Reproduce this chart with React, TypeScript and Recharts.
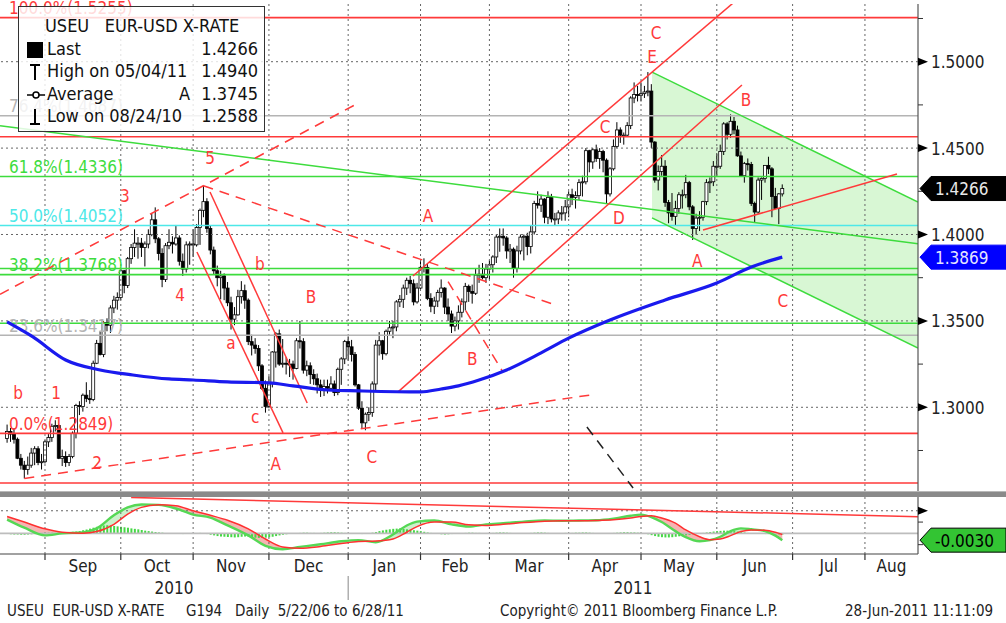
import React from 'react';
import { ComposedChart, Bar, Line, Area, XAxis, YAxis, ReferenceLine, Scatter } from 'recharts';

const FONT = "'DejaVu Sans Condensed', 'DejaVu Sans', sans-serif";
const RED = '#ff3a3a';
const GREEN = '#3ddc3d';
const CYAN = '#4de8e8';
const GRAY = '#b4b4b4';
const BLUE = '#1a1aee';

// trading-day index: 0 = 1 Sep 2010; first candle = 17 Aug 2010 (index -11)
const FIRST_INDEX = -11;

const OPEN = [
  1.2820,1.2860,1.2845,1.2815,1.2705,1.2665,1.2640,1.2665,1.2735,1.2760,1.2680,
  1.2685,1.2800,1.2825,1.2890,1.2895,1.2705,1.2715,1.2680,1.2715,1.2850,1.3010,1.3005,1.3070,1.3050,1.3045,1.3255,1.3370,1.3305,1.3490,1.3475,1.3575,1.3620,
  1.3635,1.3790,1.3705,1.3860,1.3925,1.3950,1.3950,1.3925,1.3945,1.4000,1.4085,1.3975,1.3890,1.3740,1.3935,1.3955,1.3945,1.3980,1.3845,1.3800,1.3940,
  1.3945,1.3940,1.4040,1.4140,1.4190,1.4035,1.3910,1.3790,1.3750,1.3760,1.3690,1.3605,1.3510,1.3535,1.3640,1.3675,1.3620,1.3380,1.3360,1.3340,1.3240,1.3110,
  1.3005,1.3140,1.3320,1.3425,1.3250,1.3255,1.3250,1.3250,1.3225,1.3385,1.3380,1.3215,1.3240,1.3190,1.3165,1.3130,1.3100,1.3120,1.3110,1.3135,1.3085,1.3220,1.3280,
  1.3380,1.3350,1.3305,1.3130,1.2995,1.2910,1.2960,1.2970,1.3135,1.3360,1.3385,1.3310,1.3440,1.3460,1.3465,1.3610,1.3625,1.3690,1.3735,1.3715,1.3610,
  1.3690,1.3810,1.3810,1.3630,1.3585,1.3615,1.3665,1.3690,1.3580,1.3540,1.3470,1.3500,1.3550,1.3610,1.3700,1.3670,1.3660,1.3765,1.3770,1.3750,
  1.3800,1.3825,1.3870,1.3985,1.3990,1.3980,1.3905,1.3915,1.3805,1.3905,1.3985,1.3990,1.3930,1.4015,1.4180,1.4170,1.4205,1.4100,1.4215,1.4090,1.4090,1.4125,1.4125,
  1.4160,1.4230,1.4215,1.4225,1.4300,1.4305,1.4485,1.4420,1.4490,1.4440,1.4480,1.4430,1.4235,1.4380,1.4510,1.4605,1.4575,1.4575,1.4630,1.4790,1.4810,
  1.4805,1.4815,1.4825,1.4830,1.4535,1.4315,1.4365,1.4395,1.4185,1.4125,1.4105,1.4150,1.4230,1.4230,1.4300,1.4160,1.4035,1.4095,1.4100,1.4190,1.4300,1.4305,
  1.4395,1.4395,1.4480,1.4640,1.4580,1.4655,1.4605,1.4455,1.4340,1.4410,1.4405,1.4180,1.4130,1.4315,1.4325,1.4400,1.4380,1.4220,1.4150,1.4235,
];
const HIGH = [
  1.2900,1.2880,1.2880,1.2825,1.2730,1.2690,1.2715,1.2765,1.2775,1.2775,1.2730,
  1.2810,1.2845,1.2905,1.2925,1.2900,1.2755,1.2745,1.2730,1.2860,1.3020,1.3035,1.3080,1.3145,1.3100,1.3270,1.3390,1.3440,1.3500,1.3515,1.3590,1.3645,1.3665,
  1.3800,1.3795,1.3870,1.3945,1.4030,1.3985,1.3980,1.3960,1.4030,1.4120,1.4157,1.3985,1.3920,1.3950,1.4030,1.3990,1.4055,1.3995,1.3890,1.3960,1.3960,
  1.4030,1.4060,1.4150,1.4282,1.4210,1.4050,1.3930,1.3820,1.3790,1.3775,1.3725,1.3640,1.3580,1.3680,1.3730,1.3710,1.3630,1.3420,1.3400,1.3360,1.3250,1.3155,
  1.3180,1.3325,1.3435,1.3450,1.3395,1.3290,1.3280,1.3270,1.3400,1.3500,1.3400,1.3270,1.3260,1.3220,1.3195,1.3160,1.3160,1.3160,1.3180,1.3155,1.3230,1.3290,1.3390,
  1.3410,1.3390,1.3320,1.3135,1.3035,1.2970,1.3000,1.3150,1.3390,1.3435,1.3390,1.3450,1.3500,1.3500,1.3620,1.3650,1.3710,1.3750,1.3760,1.3740,1.3720,
  1.3845,1.3862,1.3830,1.3660,1.3640,1.3680,1.3740,1.3695,1.3630,1.3560,1.3525,1.3590,1.3630,1.3720,1.3710,1.3710,1.3800,1.3825,1.3835,1.3830,
  1.3850,1.3880,1.4000,1.4035,1.4035,1.3990,1.3945,1.3925,1.3935,1.4000,1.4000,1.4010,1.4050,1.4195,1.4250,1.4230,1.4210,1.4250,1.4235,1.4125,1.4140,1.4165,1.4200,
  1.4250,1.4265,1.4250,1.4320,1.4340,1.4500,1.4490,1.4500,1.4520,1.4500,1.4490,1.4440,1.4390,1.4550,1.4650,1.4620,1.4590,1.4650,1.4800,1.4880,1.4860,
  1.4880,1.4860,1.4940,1.4870,1.4540,1.4400,1.4460,1.4430,1.4200,1.4240,1.4195,1.4245,1.4260,1.4345,1.4310,1.4170,1.4120,1.4135,1.4195,1.4320,1.4330,1.4425,
  1.4470,1.4520,1.4650,1.4650,1.4695,1.4680,1.4630,1.4480,1.4420,1.4440,1.4420,1.4190,1.4330,1.4330,1.4400,1.4450,1.4390,1.4270,1.4240,1.4290,
];
const LOW = [
  1.2795,1.2800,1.2790,1.2700,1.2640,1.2588,1.2610,1.2650,1.2665,1.2665,1.2640,
  1.2675,1.2770,1.2800,1.2860,1.2700,1.2660,1.2655,1.2660,1.2705,1.2820,1.2955,1.2975,1.3030,1.3020,1.3035,1.3250,1.3300,1.3290,1.3440,1.3430,1.3545,1.3565,
  1.3620,1.3660,1.3690,1.3830,1.3870,1.3860,1.3870,1.3815,1.3920,1.3990,1.3950,1.3850,1.3695,1.3725,1.3915,1.3890,1.3935,1.3820,1.3760,1.3780,1.3825,
  1.3870,1.3930,1.3940,1.4100,1.4010,1.3885,1.3770,1.3700,1.3625,1.3620,1.3585,1.3450,1.3475,1.3530,1.3600,1.3570,1.3360,1.3300,1.3310,1.3210,1.3100,1.2969,
  1.2995,1.3115,1.3230,1.3240,1.3230,1.3190,1.3175,1.3160,1.3220,1.3340,1.3195,1.3180,1.3135,1.3130,1.3080,1.3060,1.3065,1.3080,1.3100,1.3065,1.3070,1.3130,1.3250,
  1.3270,1.3265,1.3120,1.2985,1.2875,1.2867,1.2920,1.2945,1.3100,1.3300,1.3275,1.3300,1.3420,1.3400,1.3440,1.3580,1.3575,1.3650,1.3660,1.3590,1.3600,
  1.3685,1.3780,1.3620,1.3550,1.3540,1.3580,1.3635,1.3540,1.3500,1.3430,1.3440,1.3450,1.3520,1.3560,1.3610,1.3600,1.3650,1.3720,1.3740,1.3720,
  1.3740,1.3780,1.3835,1.3900,1.3935,1.3860,1.3835,1.3750,1.3780,1.3885,1.3850,1.3880,1.3890,1.4000,1.4150,1.4130,1.4065,1.4060,1.4070,1.4050,1.4060,1.4080,1.4080,
  1.4100,1.4170,1.4150,1.4200,1.4220,1.4290,1.4360,1.4380,1.4420,1.4380,1.4360,1.4180,1.4220,1.4370,1.4500,1.4530,1.4520,1.4570,1.4610,1.4760,1.4770,
  1.4770,1.4790,1.4800,1.4500,1.4300,1.4255,1.4340,1.4160,1.4065,1.4080,1.4050,1.4120,1.4150,1.4210,1.4140,1.3968,1.4000,1.4020,1.4080,1.4170,1.4240,1.4280,
  1.4340,1.4380,1.4460,1.4550,1.4560,1.4580,1.4450,1.4335,1.4300,1.4370,1.4165,1.4070,1.4120,1.4200,1.4300,1.4350,1.4100,1.4150,1.4060,1.4220,
];
const CLOSE = [
  1.2860,1.2845,1.2815,1.2705,1.2665,1.2640,1.2665,1.2735,1.2760,1.2680,1.2685,
  1.2800,1.2825,1.2890,1.2895,1.2705,1.2715,1.2680,1.2715,1.2850,1.3010,1.3005,1.3070,1.3050,1.3045,1.3255,1.3370,1.3305,1.3490,1.3475,1.3575,1.3620,1.3635,
  1.3790,1.3705,1.3860,1.3925,1.3950,1.3950,1.3925,1.3945,1.4000,1.4085,1.3975,1.3890,1.3740,1.3935,1.3955,1.3945,1.3980,1.3845,1.3800,1.3940,1.3945,
  1.3940,1.4040,1.4140,1.4190,1.4035,1.3910,1.3790,1.3750,1.3760,1.3690,1.3605,1.3510,1.3535,1.3640,1.3675,1.3620,1.3380,1.3360,1.3340,1.3240,1.3110,1.3005,
  1.3140,1.3320,1.3425,1.3250,1.3255,1.3250,1.3250,1.3225,1.3385,1.3380,1.3215,1.3240,1.3190,1.3165,1.3130,1.3100,1.3120,1.3110,1.3135,1.3085,1.3220,1.3280,1.3380,
  1.3350,1.3305,1.3130,1.2995,1.2910,1.2960,1.2970,1.3135,1.3360,1.3385,1.3310,1.3440,1.3460,1.3465,1.3610,1.3625,1.3690,1.3735,1.3715,1.3610,1.3690,
  1.3810,1.3810,1.3630,1.3585,1.3615,1.3665,1.3690,1.3580,1.3540,1.3470,1.3500,1.3550,1.3610,1.3700,1.3670,1.3660,1.3765,1.3770,1.3750,1.3800,
  1.3825,1.3870,1.3985,1.3990,1.3980,1.3905,1.3915,1.3805,1.3905,1.3985,1.3990,1.3930,1.4015,1.4180,1.4170,1.4205,1.4100,1.4215,1.4090,1.4090,1.4125,1.4125,1.4160,
  1.4230,1.4215,1.4225,1.4300,1.4305,1.4485,1.4420,1.4490,1.4440,1.4480,1.4430,1.4235,1.4380,1.4510,1.4605,1.4575,1.4575,1.4630,1.4790,1.4810,1.4805,
  1.4815,1.4825,1.4830,1.4535,1.4315,1.4365,1.4395,1.4185,1.4125,1.4105,1.4150,1.4230,1.4230,1.4300,1.4160,1.4035,1.4095,1.4100,1.4190,1.4300,1.4305,1.4395,
  1.4395,1.4480,1.4640,1.4580,1.4655,1.4605,1.4455,1.4340,1.4410,1.4405,1.4180,1.4130,1.4315,1.4325,1.4400,1.4380,1.4220,1.4150,1.4235,1.4266,
];

// 200-day average (blue)
const MA_INDEX = [-11, -3.5, 6, 16, 25.5, 36, 43, 53, 65, 72, 82, 91, 109, 115, 120, 126, 134, 144, 152, 164, 180, 195, 205, 214];
const MA_VALUE = [1.3494, 1.3407, 1.3274, 1.3216, 1.3187, 1.3164, 1.3158, 1.3147, 1.3141, 1.3124, 1.3100, 1.3095, 1.3089, 1.3106, 1.3124, 1.3158, 1.3216, 1.3315, 1.3400, 1.3505, 1.3621, 1.3719, 1.3812, 1.3869];

const LAST_PRICE = 1.4266;
const MA_LAST = 1.3869;

// MACD panel
const MACD_INDEX = [-11,-6,0,5,11,15,20,24,28,33,38,43,48,53,59,64,69,74,80,86,91,96,101,105,108,113,118,123,128,133,139,145,150,155,160,165,170,173,176,179,183,186,190,193,196,199,202,205,209,212,214];
const MACD_VALUE = [.0061,.0025,-.0009,.0000,.0004,.0022,.0080,.0115,.0128,.0126,.0110,.0083,.0070,.0035,-.0009,-.0055,-.0070,-.0060,-.0048,-.0035,-.0030,-.0039,-.0005,.0035,.0052,.0057,.0040,.0030,.0040,.0045,.0052,.0057,.0056,.0057,.0058,.0065,.0078,.0083,.0072,.0050,.0010,-.0017,-.0035,-.0030,-.0015,.0010,.0022,.0018,.0010,-.0010,-.0030];
const SIGNAL_VALUE = [.0075,.0050,.0020,.0005,.0001,.0008,.0040,.0085,.0115,.0127,.0122,.0100,.0080,.0058,.0020,-.0025,-.0060,-.0066,-.0058,-.0045,-.0036,-.0034,-.0025,.0005,.0030,.0050,.0050,.0038,.0035,.0040,.0048,.0054,.0056,.0056,.0057,.0060,.0068,.0075,.0078,.0068,.0045,.0015,-.0015,-.0028,-.0025,-.0010,.0008,.0015,.0014,.0005,-.0005];
// daily histogram, units of 0.0001, from index -11
const HIST = [
  -3,-4,-5,-5,-6,-6,-5,-4,-3,-2,-2,
  2,3,3,2,1,2,3,5,7,8,10,14,17,21,25,29,32,35,36,35,33,31,
  29,27,25,22,20,18,15,12,10,8,6,4,3,1,0,-1,-2,-2,-3,-2,-1,
  0,1,2,0,-3,-6,-9,-12,-14,-15,-16,-17,-18,-17,-15,-14,-15,-17,-19,-20,-20,-19,
  -17,-15,-12,-9,-6,-4,-2,0,1,2,3,3,2,2,1,2,3,4,5,5,4,3,2,
  1,0,-1,-2,-3,-2,0,3,6,10,13,16,18,20,21,22,20,18,16,14,12,
  10,7,4,2,0,-2,-4,-5,-4,-3,-2,0,1,2,3,3,2,2,1,1,
  1,2,3,4,4,3,2,1,0,-1,0,1,2,3,4,4,3,2,1,0,1,1,2,
  2,2,3,3,4,4,3,2,1,0,-1,0,1,2,3,4,5,5,4,4,3,
  2,0,-4,-8,-12,-15,-17,-18,-18,-17,-15,-13,-11,-9,-7,-4,-2,0,2,4,6,8,
  10,11,12,12,11,10,8,6,4,2,0,-1,-2,-2,-3,-3,-4,-4,-5,-5,
];
const MACD_LAST = -0.003;
const MACD_TREND = [[25, 0.0159], [253.4, 0.0074]];

const MONTH_STARTS = [0, 22, 43, 65, 88, 109, 129, 152, 173, 195, 217, 238, 261];
const MONTH_LABELS = ['Sep', 'Oct', 'Nov', 'Dec', 'Jan', 'Feb', 'Mar', 'Apr', 'May', 'Jun', 'Jul', 'Aug'];
const YEAR_LABELS = ['2010', '2011'];
const YEAR_BREAK = 88;

const X_DOMAIN: [number, number] = [-13.06, 253.4];
const PRICE_DOMAIN: [number, number] = [1.25156, 1.53339];
const MACD_DOMAIN: [number, number] = [-0.00913, 0.01609];
const PRICE_MAJOR = [1.3, 1.35, 1.4, 1.45, 1.5];
const PRICE_MINOR = [1.275, 1.325, 1.375, 1.425, 1.475, 1.525];

const FIB_LEVELS = [
  { v: 1.5255, t: '100.0%(1.5255)', c: RED },
  { v: 1.4687, t: '76.4%(1.4687)', c: GRAY },
  { v: 1.4336, t: '61.8%(1.4336)', c: GREEN },
  { v: 1.4052, t: '50.0%(1.4052)', c: CYAN },
  { v: 1.3768, t: '38.2%(1.3768)', c: GREEN },
  { v: 1.3417, t: '23.6%(1.3417)', c: GRAY },
  { v: 1.2849, t: '0.0%(1.2849)', c: RED },
];
const EXTRA_LEVELS = [
  { v: 1.4566, c: RED },
  { v: 1.3803, c: GREEN },
  { v: 1.3486, c: GREEN },
  { v: 1.2562, c: RED },
];

const TRENDS = [
  { a: [-13.06, 1.4630], b: [253.4, 1.3947], c: GREEN, d: false },
  { a: [176.2, 1.4940], b: [253.4, 1.4188], c: GREEN, d: false },
  { a: [176.2, 1.4096], b: [253.4, 1.3343], c: GREEN, d: false },
  { a: [-6, 1.2588], b: [158.2, 1.3071], c: RED, d: true },
  { a: [-13.06, 1.3654], b: [90.9, 1.4760], c: RED, d: true },
  { a: [46, 1.4282], b: [148, 1.3593], c: RED, d: true },
  { a: [117, 1.3727], b: [132.9, 1.3205], c: RED, d: true },
  { a: [157.3, 1.2886], b: [170.7, 1.2533], c: '#222', d: true },
  { a: [44.1, 1.3899], b: [69.1, 1.2852], c: RED, d: false },
  { a: [47.9, 1.4246], b: [76.1, 1.3025], c: RED, d: false },
  { a: [102.5, 1.3089], b: [202.3, 1.4865], c: RED, d: false },
  { a: [106.8, 1.3760], b: [199.7, 1.5339], c: RED, d: false },
  { a: [191, 1.4026], b: [247.3, 1.4350], c: RED, d: false },
];
const WEDGE = [
  { i: 176.2, r: [1.4096, 1.4940] },
  { i: 253.4, r: [1.3343, 1.4188] },
];

const WAVE_LABELS = [
  { i: -7.8, p: 1.3082, t: 'b' }, { i: 3.2, p: 1.3082, t: '1' }, { i: 15.1, p: 1.2677, t: '2' },
  { i: 23.2, p: 1.4222, t: '3' }, { i: 39.2, p: 1.3650, t: '4' }, { i: 47.9, p: 1.4443, t: '5' },
  { i: 54, p: 1.3372, t: 'a' }, { i: 62.4, p: 1.3829, t: 'b' }, { i: 61, p: 1.2944, t: 'c' },
  { i: 67, p: 1.2672, t: 'A' }, { i: 77.2, p: 1.3639, t: 'B' }, { i: 94.9, p: 1.2713, t: 'C' },
  { i: 111.2, p: 1.4106, t: 'A' }, { i: 124, p: 1.3278, t: 'B' }, { i: 162.6, p: 1.4622, t: 'C' },
  { i: 166.6, p: 1.4096, t: 'D' }, { i: 177.4, p: 1.5166, t: 'C' }, { i: 176.2, p: 1.5027, t: 'E' },
  { i: 203.5, p: 1.4778, t: 'B' }, { i: 189.3, p: 1.3847, t: 'A' }, { i: 214.2, p: 1.3616, t: 'C' },
];

const LEGEND_ROWS = [
  { icon: 'last', label: 'Last', mid: '', value: '1.4266' },
  { icon: 'high', label: 'High on 05/04/11', mid: '', value: '1.4940' },
  { icon: 'avg', label: 'Average', mid: 'A', value: '1.3745' },
  { icon: 'low', label: 'Low on 08/24/10', mid: '', value: '1.2588' },
];

// ---------- tables built from the arrays ----------
const candles = CLOSE.map((c, k) => {
  const o = OPEN[k], h = HIGH[k], l = LOW[k];
  return { i: FIRST_INDEX + k, o, c, hi: Math.max(h, o, c), lo: Math.min(l, o, c) };
});
const maData = MA_INDEX.map((i, k) => ({ i, v: MA_VALUE[k] }));
const histData = HIST.map((h, k) => ({ i: FIRST_INDEX + k, h: h / 10000 }));
const macdData = MACD_INDEX.map((i, k) => {
  const m = MACD_VALUE[k], s = SIGNAL_VALUE[k];
  return {
    i, m, s,
    pink: m < s ? [m, s] : [m, m],
    green: m >= s ? [s, m] : [m, m],
  };
});
const MONTH_MIDS = MONTH_LABELS.map((_, k) => (Math.max(MONTH_STARTS[k], X_DOMAIN[0]) + Math.min(MONTH_STARTS[k + 1], X_DOMAIN[1])) / 2);
const YEAR_MIDS = [(X_DOMAIN[0] + YEAR_BREAK) / 2, (YEAR_BREAK + X_DOMAIN[1]) / 2];
const VISIBLE_STARTS = MONTH_STARTS.filter((v) => v <= X_DOMAIN[1]);
const X_TICKS = [...VISIBLE_STARTS, ...MONTH_MIDS, ...YEAR_MIDS];

const near = (a: number, b: number) => Math.abs(a - b) < 1e-6;

// ---------- shapes ----------
const Candle = (props: any) => {
  const { x, y, width, height, payload } = props;
  if (x == null || y == null || !payload) return null;
  const cx = x + (width || 0) / 2;
  const top = Math.min(y, y + height);
  const h = Math.abs(height);
  const span = payload.hi - payload.lo || 1;
  const py = (v: number) => top + ((payload.hi - v) / span) * h;
  const yo = py(payload.o);
  const yc = py(payload.c);
  const up = payload.c >= payload.o;
  const bTop = Math.min(yo, yc);
  const bH = Math.max(1, Math.abs(yc - yo));
  return (
    <g>
      <line x1={cx} x2={cx} y1={top} y2={top + h} stroke="#000" strokeWidth={1} />
      <rect x={cx - 1.5} y={bTop} width={3} height={bH} fill={up ? '#fff' : '#000'} stroke="#000" strokeWidth={0.8} />
    </g>
  );
};

const FibLabel = (props: any) => {
  const vb = props.viewBox || {};
  return (
    <text x={(vb.x || 0) + 9} y={(vb.y || 0) - 3.5} fill={props.color} fontSize={17} fontFamily={FONT}>
      {props.text}
    </text>
  );
};

const WaveText = (props: any) => {
  const { cx, cy, payload } = props;
  if (cx == null || cy == null) return null;
  return (
    <text x={cx} y={cy + 6} textAnchor="middle" fill={RED} fontSize={17} fontFamily={FONT}>
      {payload.t}
    </text>
  );
};

const Tag = ({ x, y, fill, text, color, border }: any) => (
  <g>
    <path d={`M${x + 2},${y} L${x + 13},${y - 12} L${x + 88},${y - 12} L${x + 88},${y + 12} L${x + 13},${y + 12} Z`} fill={fill} stroke={border || fill} strokeWidth={1} />
    <text x={x + 17} y={y + 6.5} fill={color} fontSize={17} fontFamily={FONT}>{text}</text>
  </g>
);

const PriceTick = (props: any) => {
  const { x, y, payload } = props;
  const v = payload.value;
  if (near(v, LAST_PRICE)) return <Tag x={x} y={y} fill="#000" color="#e8e8e8" text={LAST_PRICE.toFixed(4)} />;
  if (near(v, MA_LAST)) return <Tag x={x} y={y} fill="#0000ff" color="#e6e6ff" text={MA_LAST.toFixed(4)} />;
  if (PRICE_MAJOR.some((m) => near(m, v))) {
    return (
      <g>
        <path d={`M${x},${y - 4} L${x + 10},${y} L${x},${y + 4} Z`} fill="#000" />
        <text x={x + 13} y={y + 6.5} fill="#222" fontSize={17} fontFamily={FONT}>{v.toFixed(4)}</text>
      </g>
    );
  }
  return <line x1={x} x2={x + 5} y1={y} y2={y} stroke="#333" strokeWidth={1} />;
};

const MacdTick = (props: any) => {
  const { x, y, payload } = props;
  const v = payload.value;
  if (near(v, MACD_LAST)) return <Tag x={x} y={y} fill="#33c433" border="#000" color="#000" text={MACD_LAST.toFixed(4)} />;
  if (near(v, 0.01)) return <path d={`M${x},${y - 4} L${x + 10},${y} L${x},${y + 4} Z`} fill="#000" />;
  return <line x1={x} x2={x + 5} y1={y} y2={y} stroke="#333" strokeWidth={1} />;
};

const MonthTick = (props: any) => {
  const { x, y, payload } = props;
  const v = payload.value;
  const mi = MONTH_MIDS.findIndex((m) => near(m, v));
  if (mi >= 0) {
    return <text x={x} y={y + 18} textAnchor="middle" fill="#222" fontSize={17} fontFamily={FONT}>{MONTH_LABELS[mi]}</text>;
  }
  const yi = YEAR_MIDS.findIndex((m) => near(m, v));
  if (yi >= 0) {
    return <text x={x} y={y + 40} textAnchor="middle" fill="#222" fontSize={17} fontFamily={FONT}>{YEAR_LABELS[yi]}</text>;
  }
  return (
    <g>
      <line x1={x} x2={x} y1={y} y2={y + 6} stroke="#333" strokeWidth={1.2} />
      {near(v, YEAR_BREAK) ? <line x1={x} x2={x} y1={y + 22} y2={y + 46} stroke="#888" strokeWidth={1} /> : null}
    </g>
  );
};

const LegendIcon = ({ kind }: { kind: string }) => {
  if (kind === 'last') return <svg width="16" height="16"><rect x="0" y="0" width="16" height="16" fill="#000" /></svg>;
  if (kind === 'high') return <svg width="16" height="18"><line x1="3" x2="13" y1="2" y2="2" stroke="#000" strokeWidth="2" /><line x1="8" x2="8" y1="2" y2="17" stroke="#000" strokeWidth="2" /></svg>;
  if (kind === 'low') return <svg width="16" height="18"><line x1="3" x2="13" y1="16" y2="16" stroke="#000" strokeWidth="2" /><line x1="8" x2="8" y1="1" y2="16" stroke="#000" strokeWidth="2" /></svg>;
  return <svg width="18" height="16"><line x1="0" x2="18" y1="8" y2="8" stroke="#000" strokeWidth="1.5" /><circle cx="9" cy="8" r="3" fill="#fff" stroke="#000" strokeWidth="1.5" /></svg>;
};

export default function App() {
  const priceTicks = [...PRICE_MINOR, ...PRICE_MAJOR, MA_LAST, LAST_PRICE];
  return (
    <div style={{ position: 'fixed', left: 0, top: 0, width: 1006, height: 623, background: '#fff', overflow: 'hidden', fontFamily: FONT }}>
      <div style={{ position: 'absolute', left: 0, top: 0 }}>
        <ComposedChart width={1006} height={495} data={candles} margin={{ top: 4, right: 0, bottom: 4, left: 0 }}>
          <XAxis type="number" dataKey="i" domain={X_DOMAIN} allowDataOverflow hide />
          <YAxis
            orientation="right"
            type="number"
            domain={PRICE_DOMAIN}
            allowDataOverflow
            width={88}
            ticks={priceTicks}
            interval={0}
            tickLine={false}
            tickSize={0}
            tickMargin={0}
            axisLine={{ stroke: '#555', strokeWidth: 1.2 }}
            tick={<PriceTick />}
          />
          <Area data={WEDGE} dataKey="r" type="linear" fill="#b8f0b0" fillOpacity={0.55} stroke="none" isAnimationActive={false} />
          {VISIBLE_STARTS.map((m) => (
            <ReferenceLine key={'vg' + m} x={m} stroke="#666" strokeDasharray="2 3" strokeWidth={1} ifOverflow="hidden" />
          ))}
          {PRICE_MAJOR.map((p) => (
            <ReferenceLine key={'hg' + p} y={p} stroke="#666" strokeDasharray="2 3" strokeWidth={1} ifOverflow="hidden" />
          ))}
          {EXTRA_LEVELS.map((l) => (
            <ReferenceLine key={'ex' + l.v} y={l.v} stroke={l.c} strokeWidth={1.6} ifOverflow="hidden" />
          ))}
          {FIB_LEVELS.map((f) => (
            <ReferenceLine key={'fib' + f.v} y={f.v} stroke={f.c} strokeWidth={1.6} ifOverflow="hidden" label={<FibLabel text={f.t} color={f.c} />} />
          ))}
          {TRENDS.map((t, k) => (
            <ReferenceLine
              key={'tr' + k}
              segment={[{ x: t.a[0], y: t.a[1] }, { x: t.b[0], y: t.b[1] }]}
              stroke={t.c}
              strokeWidth={1.5}
              strokeDasharray={t.d ? '10 7' : undefined}
              ifOverflow="hidden"
            />
          ))}
          <Line data={maData} dataKey="v" type="monotone" stroke={BLUE} strokeWidth={3.2} dot={false} isAnimationActive={false} />
          <Bar dataKey={(d: any) => [d.lo, d.hi]} barSize={3} shape={<Candle />} isAnimationActive={false} />
          <Scatter data={WAVE_LABELS} dataKey="p" shape={<WaveText />} isAnimationActive={false} />
        </ComposedChart>
      </div>

      <div style={{ position: 'absolute', left: 0, top: 491, width: 1006, height: 6, background: '#8a8a8a', borderTop: '1px solid #b8b8b8', boxSizing: 'border-box' }} />

      <div style={{ position: 'absolute', left: 0, top: 497 }}>
        <ComposedChart width={1006} height={126} data={histData} margin={{ top: 0, right: 0, bottom: 0, left: 0 }}>
          <XAxis
            type="number"
            dataKey="i"
            domain={X_DOMAIN}
            allowDataOverflow
            ticks={X_TICKS}
            interval={0}
            height={69}
            tickLine={false}
            tickSize={0}
            tickMargin={0}
            axisLine={{ stroke: '#444', strokeWidth: 1.2 }}
            tick={<MonthTick />}
          />
          <YAxis
            orientation="right"
            type="number"
            domain={MACD_DOMAIN}
            allowDataOverflow
            width={88}
            ticks={[0.01, 0.005, -0.005, MACD_LAST]}
            interval={0}
            tickLine={false}
            tickSize={0}
            tickMargin={0}
            axisLine={{ stroke: '#555', strokeWidth: 1.2 }}
            tick={<MacdTick />}
          />
          {VISIBLE_STARTS.map((m) => (
            <ReferenceLine key={'mvg' + m} x={m} stroke="#666" strokeDasharray="2 3" strokeWidth={1} ifOverflow="hidden" />
          ))}
          <ReferenceLine y={0.01} stroke="#666" strokeDasharray="2 3" strokeWidth={1} ifOverflow="hidden" />
          <ReferenceLine y={0} stroke="#bdbdbd" strokeWidth={1.6} ifOverflow="hidden" />
          <Bar dataKey="h" barSize={2} fill="#45d845" isAnimationActive={false} />
          <Area data={macdData} dataKey="pink" type="monotone" fill="#f4a0a0" fillOpacity={0.8} stroke="none" isAnimationActive={false} />
          <Area data={macdData} dataKey="green" type="monotone" fill="#bfeebf" fillOpacity={0.8} stroke="none" isAnimationActive={false} />
          <Line data={macdData} dataKey="m" type="monotone" stroke="#55d855" strokeWidth={2.4} dot={false} isAnimationActive={false} />
          <Line data={macdData} dataKey="s" type="monotone" stroke="#ff3030" strokeWidth={1.5} dot={false} isAnimationActive={false} />
          <ReferenceLine
            segment={[{ x: MACD_TREND[0][0], y: MACD_TREND[0][1] }, { x: MACD_TREND[1][0], y: MACD_TREND[1][1] }]}
            stroke={RED}
            strokeWidth={1.5}
            ifOverflow="hidden"
          />
        </ComposedChart>
      </div>

      {/* legend box */}
      <div style={{ position: 'absolute', left: 18, top: 6, width: 247, height: 126, border: '1.5px solid #333', background: 'rgba(255,255,255,0.82)', boxSizing: 'border-box', color: '#111', fontSize: 18 }}>
        <div style={{ position: 'absolute', left: 26, top: 8, lineHeight: '22px', whiteSpace: 'pre' }}>USEU   EUR-USD X-RATE</div>
        {LEGEND_ROWS.map((r, k) => (
          <div key={r.label} style={{ position: 'absolute', left: 0, right: 0, top: 31 + k * 22.3, height: 22, lineHeight: '22px', whiteSpace: 'pre' }}>
            <div style={{ position: 'absolute', left: 8, top: 3 }}><LegendIcon kind={r.icon} /></div>
            <div style={{ position: 'absolute', left: 28 }}>{r.label}</div>
            {r.mid ? <div style={{ position: 'absolute', left: 160 }}>{r.mid}</div> : null}
            <div style={{ position: 'absolute', right: 6 }}>{r.value}</div>
          </div>
        ))}
      </div>

      {/* footer */}
      <div style={{ position: 'absolute', left: 7, top: 602, fontSize: 15, color: '#222', whiteSpace: 'pre' }}>USEU  EUR-USD X-RATE     G194   Daily  5/22/06 to 6/28/11</div>
      <div style={{ position: 'absolute', left: 500, top: 602, fontSize: 15, color: '#222', whiteSpace: 'pre' }}>Copyright© 2011 Bloomberg Finance L.P.</div>
      <div style={{ position: 'absolute', left: 845, top: 602, fontSize: 15, color: '#222', whiteSpace: 'pre' }}>28-Jun-2011 11:11:09</div>
    </div>
  );
}
